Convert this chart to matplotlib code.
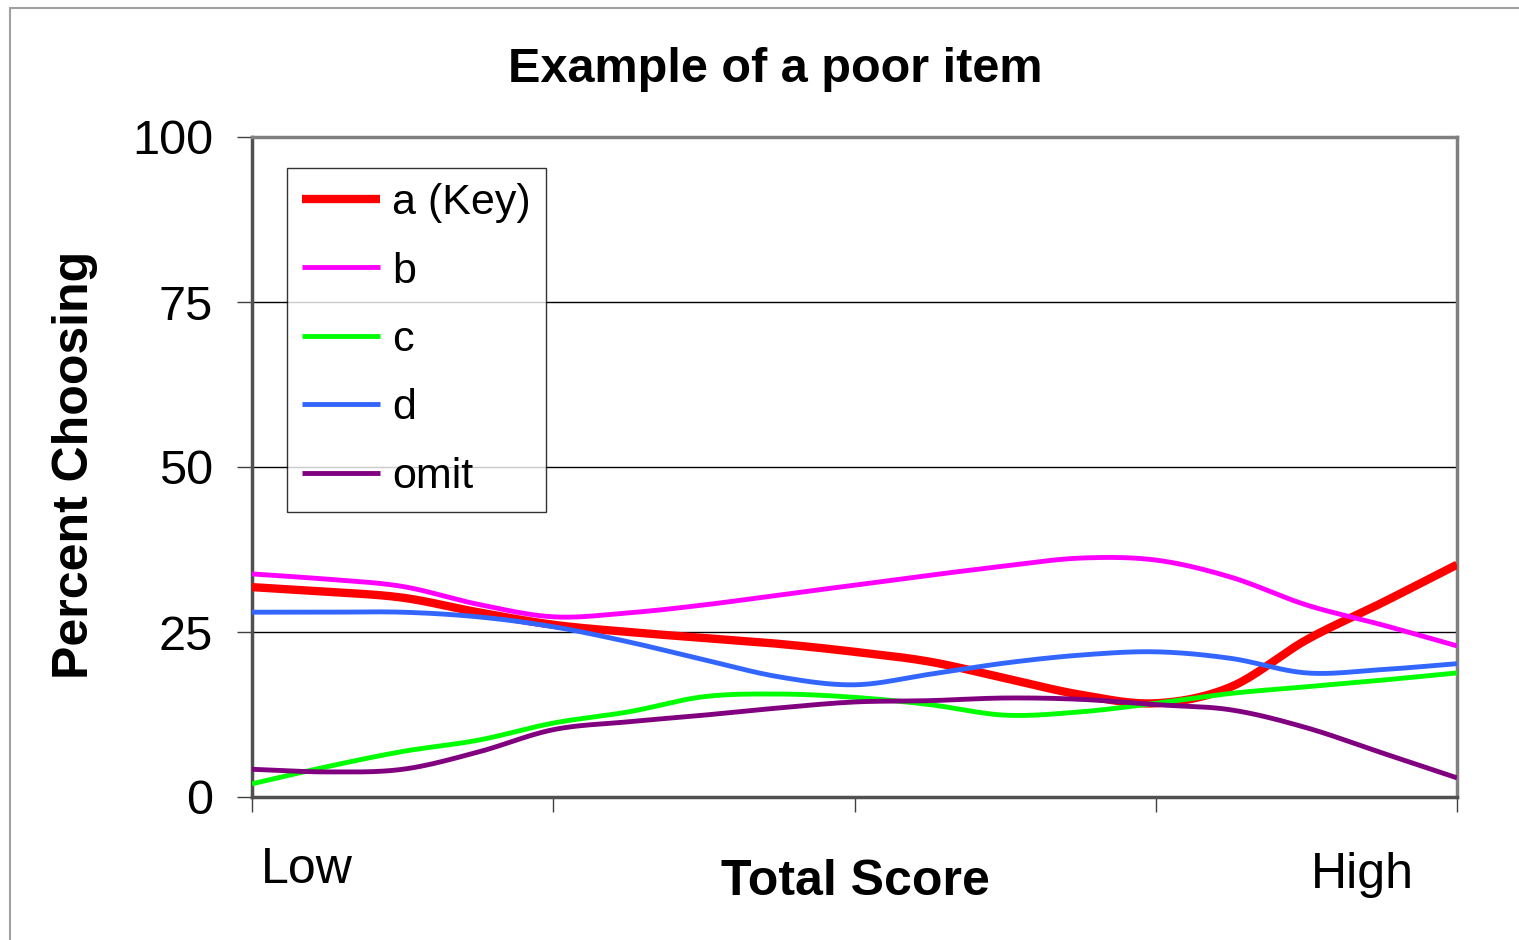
import numpy as np
import matplotlib
matplotlib.use("Agg")
import matplotlib.pyplot as plt
from matplotlib.patches import Rectangle

plt.rcParams['font.family'] = ['Liberation Sans', 'DejaVu Sans']

# score groups, low to high (17 groups, ticks every 4)
groups = list(range(17))
a_key = [31.8, 31.1, 30.2, 28.0, 26.1, 25.0, 24.1, 23.2, 22.0, 20.5, 18.0, 15.5, 14.2, 16.7, 23.8, 29.4, 35.2]
b = [33.8, 33.0, 31.9, 29.2, 27.3, 27.9, 29.1, 30.6, 32.1, 33.6, 35.0, 36.2, 35.9, 33.3, 29.1, 26.1, 22.9]
c = [2.0, 4.6, 6.9, 8.6, 11.2, 12.9, 15.2, 15.6, 15.1, 14.0, 12.4, 12.9, 14.2, 15.7, 16.7, 17.7, 18.8]
d = [28.0, 28.0, 28.0, 27.3, 25.8, 23.5, 20.8, 18.2, 17.0, 18.6, 20.3, 21.5, 22.0, 21.0, 18.8, 19.3, 20.2]
omit = [4.2, 3.8, 4.2, 6.8, 10.2, 11.4, 12.4, 13.5, 14.4, 14.6, 15.0, 14.8, 14.0, 13.2, 10.5, 6.7, 2.9]

series = [
    ("a (Key)", a_key, "#ff0000", 6.0),
    ("b", b, "#ff00ff", 3.5),
    ("c", c, "#00ff00", 3.5),
    ("d", d, "#3366ff", 3.5),
    ("omit", omit, "#800080", 3.5),
]


def smooth(xs, ys, n=20):
    # Catmull-Rom style curve through the points (like Excel's smoothed line)
    xs = np.asarray(xs, float)
    ys = np.asarray(ys, float)
    px = np.concatenate([[2 * xs[0] - xs[1]], xs, [2 * xs[-1] - xs[-2]]])
    py = np.concatenate([[2 * ys[0] - ys[1]], ys, [2 * ys[-1] - ys[-2]]])
    t = np.linspace(0, 1, n, endpoint=False)
    ox, oy = [], []
    for i in range(1, len(px) - 2):
        for p, out in ((px, ox), (py, oy)):
            p0, p1, p2, p3 = p[i - 1], p[i], p[i + 1], p[i + 2]
            out.extend(0.5 * ((2 * p1) + (-p0 + p2) * t
                              + (2 * p0 - 5 * p1 + 4 * p2 - p3) * t ** 2
                              + (-p0 + 3 * p1 - 3 * p2 + p3) * t ** 3))
    ox.append(xs[-1])
    oy.append(ys[-1])
    return np.array(ox), np.array(oy)


fig = plt.figure(figsize=(15.19, 9.40), dpi=100)
fig.patches.append(Rectangle((10 / 1519, -0.1), 1.2, 1.1 - 8 / 940,
                             transform=fig.transFigure, fill=False,
                             edgecolor="#a0a0a0", linewidth=1.5))

ax = fig.add_axes([252 / 1519, 143 / 940, 1205 / 1519, 660 / 940])

for label, vals, col, lw in series:
    sx, sy = smooth(groups, vals)
    ax.plot(sx, sy, color=col, linewidth=lw, label=label, solid_capstyle='butt', zorder=3)

ax.set_xlim(0, 16)
ax.set_ylim(0, 100)
ax.set_yticks([0, 25, 50, 75, 100])
ax.set_xticks([0, 4, 8, 12, 16])
ax.set_xticklabels([])
ax.tick_params(axis='y', direction='out', length=11, width=1, labelsize=35, pad=17, color='#404040')
ax.tick_params(axis='x', direction='out', length=11, width=1, color='#404040')
ax.grid(axis='y', color='black', linewidth=1)
ax.set_axisbelow(True)
for side in ('top', 'right'):
    ax.spines[side].set_color('#808080')
    ax.spines[side].set_linewidth(2.5)
for side in ('left', 'bottom'):
    ax.spines[side].set_color('#505050')
    ax.spines[side].set_linewidth(2.5)

leg = ax.legend(loc='upper left', bbox_to_anchor=(0.029, 0.953), borderaxespad=0,
                fontsize=31, frameon=True, fancybox=False, edgecolor='black',
                handlelength=1.8, handletextpad=0.3, labelspacing=0.66,
                borderpad=0.35)
leg.get_frame().set_linewidth(1)
leg.set_zorder(5)

fig.text(775 / 1519, 1 - 70 / 940, "Example of a poor item", ha='center', va='center',
         fontsize=35, fontweight='bold')
fig.text(75 / 1519, 1 - 465 / 940, "Percent Choosing", ha='center', va='center',
         rotation=90, fontsize=36, fontweight='bold')
fig.text(855 / 1519, 1 - 882 / 940, "Total Score", ha='center', va='center',
         fontsize=36, fontweight='bold')
fig.text(307 / 1519, 1 - 870 / 940, "Low", ha='center', va='center', fontsize=36)
fig.text(1362 / 1519, 1 - 875 / 940, "High", ha='center', va='center', fontsize=36)

fig.savefig("out.png", dpi=100)
